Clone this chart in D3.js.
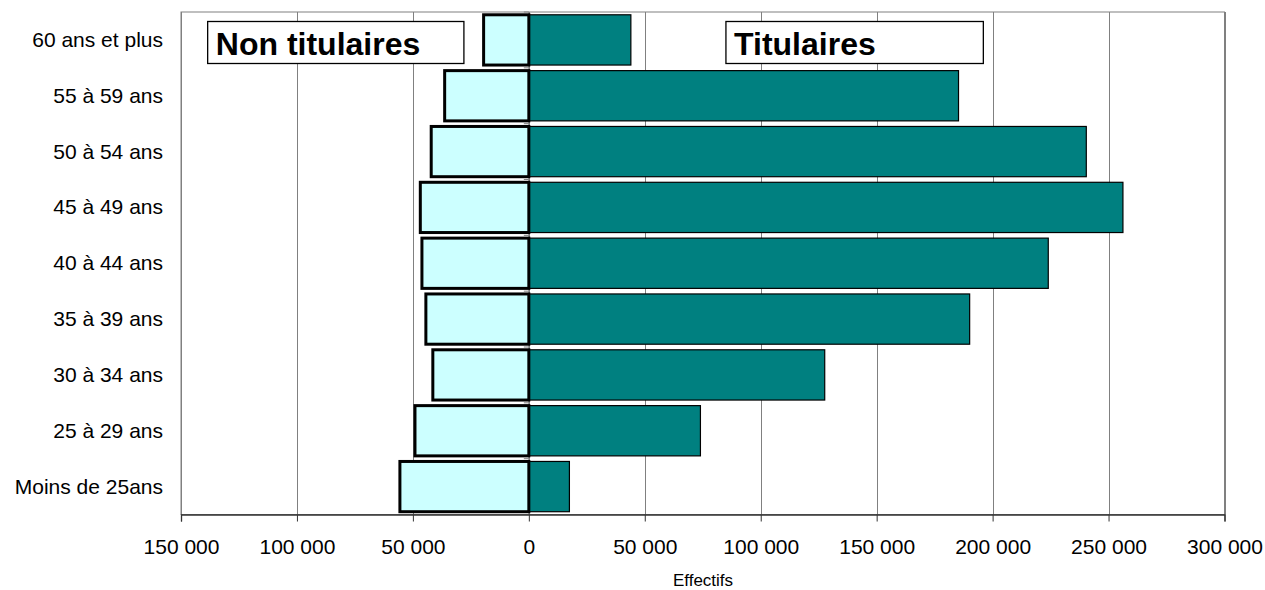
<!DOCTYPE html>
<html><head><meta charset="utf-8">
<script src="https://cdn.jsdelivr.net/npm/d3@7"></script>
<style>body{margin:0;background:#fff}svg{display:block}text{font-family:Arial,"Liberation Sans",sans-serif}</style>
</head><body><svg id="c" width="1265" height="590"></svg>
<script>
const categories = ["60 ans et plus","55 à 59 ans","50 à 54 ans","45 à 49 ans","40 à 44 ans","35 à 39 ans","30 à 34 ans","25 à 29 ans","Moins de 25ans"];
const nonTitulaires = [19500, 36300, 42100, 46800, 46100, 44400, 41400, 49100, 55600];
const titulaires = [44000, 185300, 240400, 256200, 224000, 190100, 127600, 74000, 17500];
const tickValues = [-150000,-100000,-50000,0,50000,100000,150000,200000,250000,300000];
const legendLabels = ["Non titulaires","Titulaires"];
const axisTitle = "Effectifs";

const svg = d3.select("#c");
const L = 181, R = 1224.5, T = 12, B = 514.5;
const x = d3.scaleLinear().domain([-150000, 300000]).range([L, R]);
const y = d3.scaleBand().domain(categories).range([T, B]).paddingInner(0.1).paddingOuter(0.05);
const fmt = v => d3.format(",")(Math.abs(v)).replace(/,/g, " ");

// gridlines
svg.append("g").selectAll("line").data(tickValues).join("line")
  .attr("x1", d => Math.round(x(d)) + 0.5).attr("x2", d => Math.round(x(d)) + 0.5)
  .attr("y1", T).attr("y2", B).attr("stroke", "#808080").attr("stroke-width", 1);
// frame
svg.append("rect").attr("x", L).attr("y", T).attr("width", R - L).attr("height", B - T)
  .attr("fill", "none").attr("stroke", "#808080").attr("stroke-width", 1);

// vertical zero axis with small ticks at band boundaries
const x0 = x(0);
const bounds = categories.map(c => y(c) - y.step() * y.paddingInner() / 2).concat([B]);
svg.append("line").attr("x1", x0).attr("x2", x0).attr("y1", T).attr("y2", B).attr("stroke", "#808080");
svg.append("g").selectAll("line").data(bounds).join("line")
  .attr("x1", x0 - 5).attr("x2", x0).attr("y1", d => d).attr("y2", d => d).attr("stroke", "#808080");

// titulaires bars
svg.append("g").selectAll("rect").data(categories).join("rect")
  .attr("x", x0).attr("y", d => y(d))
  .attr("width", (d, i) => x(titulaires[i]) - x0).attr("height", y.bandwidth())
  .attr("fill", "#008080").attr("stroke", "#000").attr("stroke-width", 1.2);
// non titulaires bars
svg.append("g").selectAll("rect").data(categories).join("rect")
  .attr("x", (d, i) => x(-nonTitulaires[i])).attr("y", d => y(d))
  .attr("width", (d, i) => x0 - x(-nonTitulaires[i])).attr("height", y.bandwidth())
  .attr("fill", "#CCFFFF").attr("stroke", "#000").attr("stroke-width", 3);

// bottom axis
const ax = svg.append("g").attr("transform", `translate(0,${B})`)
  .call(d3.axisBottom(x).tickValues(tickValues).tickFormat(fmt).tickSize(7).tickPadding(18));
ax.select(".domain").attr("stroke", "#333").attr("stroke-width", 1.3);
ax.selectAll(".tick line").attr("stroke", "#333");
ax.selectAll("text").attr("font-size", 21).attr("fill", "#000")
  .attr("font-family", "Arial, 'Liberation Sans', sans-serif");

svg.append("text").attr("x", 703).attr("y", 586).attr("text-anchor", "middle")
  .attr("font-size", 17).text(axisTitle);

// category labels
svg.append("g").selectAll("text").data(categories).join("text")
  .attr("x", 163).attr("y", d => y(d) + y.bandwidth() / 2 + 7)
  .attr("text-anchor", "end").attr("font-size", 21).attr("fill", "#000").text(d => d);

// legend-like boxes
const boxes = [
  {x0: -138500, x1: -28000, tx: -135000},
  {x0: 85000, x1: 196000, tx: 88500}
];
boxes.forEach((b, i) => {
  svg.append("rect").attr("x", x(b.x0)).attr("y", 21.5).attr("width", x(b.x1) - x(b.x0)).attr("height", 42)
    .attr("fill", "#fff").attr("stroke", "#000").attr("stroke-width", 1.3);
  svg.append("text").attr("x", x(b.tx)).attr("y", 55).attr("font-size", 32).attr("font-weight", "bold")
    .text(legendLabels[i]);
});
</script></body></html>
